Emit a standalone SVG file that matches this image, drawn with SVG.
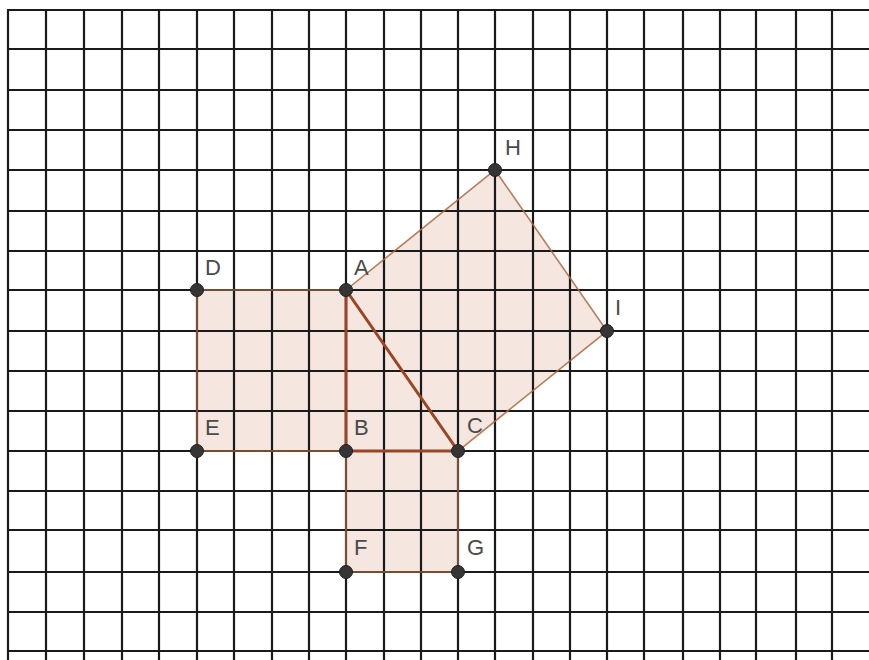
<svg xmlns="http://www.w3.org/2000/svg" width="869" height="660" viewBox="0 0 869 660">
  <style>
    .grid line { stroke: #1a1a1a; stroke-width: 2.2; }
    .fill { fill: #d89a80; fill-opacity: 0.25; stroke: none; }
    .sq { stroke: #a8683f; stroke-width: 1.6; stroke-opacity: 0.85; fill: none; }
    .tri { stroke: #9a4526; stroke-width: 3; fill: none; stroke-linecap: round; }
    .pt { fill: #353535; stroke: #1e1e1e; stroke-width: 1; }
    .lbl { font-family: "Liberation Sans", Arial, sans-serif; font-size: 22px; fill: #4a4a4a; }
  </style>
  <rect x="0" y="0" width="869" height="660" fill="#ffffff"/>
  <g id="fills">
    <polygon class="fill" points="197,290 346,290 346,451 197,451"/>
    <polygon class="fill" points="346,451 458,451 458,572 346,572"/>
    <polygon class="fill" points="346,290 495,170 607,331 458,451"/>
    <polygon class="fill" points="346,290 346,451 458,451"/>
  </g>
  <g class="grid" id="grid">
    <line x1="8" y1="10" x2="8" y2="660"/>
    <line x1="46" y1="10" x2="46" y2="660"/>
    <line x1="84" y1="10" x2="84" y2="660"/>
    <line x1="122" y1="10" x2="122" y2="660"/>
    <line x1="159" y1="10" x2="159" y2="660"/>
    <line x1="197" y1="10" x2="197" y2="660"/>
    <line x1="234" y1="10" x2="234" y2="660"/>
    <line x1="272" y1="10" x2="272" y2="660"/>
    <line x1="309" y1="10" x2="309" y2="660"/>
    <line x1="346" y1="10" x2="346" y2="660"/>
    <line x1="384" y1="10" x2="384" y2="660"/>
    <line x1="421" y1="10" x2="421" y2="660"/>
    <line x1="458" y1="10" x2="458" y2="660"/>
    <line x1="495" y1="10" x2="495" y2="660"/>
    <line x1="533" y1="10" x2="533" y2="660"/>
    <line x1="570" y1="10" x2="570" y2="660"/>
    <line x1="607" y1="10" x2="607" y2="660"/>
    <line x1="644" y1="10" x2="644" y2="660"/>
    <line x1="683" y1="10" x2="683" y2="660"/>
    <line x1="720" y1="10" x2="720" y2="660"/>
    <line x1="756" y1="10" x2="756" y2="660"/>
    <line x1="796" y1="10" x2="796" y2="660"/>
    <line x1="832" y1="10" x2="832" y2="660"/>
    <line x1="7" y1="10" x2="869" y2="10"/>
    <line x1="7" y1="49" x2="869" y2="49"/>
    <line x1="7" y1="90" x2="869" y2="90"/>
    <line x1="7" y1="130" x2="869" y2="130"/>
    <line x1="7" y1="170" x2="869" y2="170"/>
    <line x1="7" y1="211" x2="869" y2="211"/>
    <line x1="7" y1="251" x2="869" y2="251"/>
    <line x1="7" y1="290" x2="869" y2="290"/>
    <line x1="7" y1="331" x2="869" y2="331"/>
    <line x1="7" y1="371" x2="869" y2="371"/>
    <line x1="7" y1="411" x2="869" y2="411"/>
    <line x1="7" y1="451" x2="869" y2="451"/>
    <line x1="7" y1="491" x2="869" y2="491"/>
    <line x1="7" y1="530" x2="869" y2="530"/>
    <line x1="7" y1="572" x2="869" y2="572"/>
    <line x1="7" y1="612" x2="869" y2="612"/>
    <line x1="7" y1="651" x2="869" y2="651"/>
  </g>
  <g id="connectors">
    <polygon class="sq" points="197,290 346,290 346,451 197,451"/>
    <polygon class="sq" points="346,451 458,451 458,572 346,572"/>
    <polygon class="sq" points="346,290 495,170 607,331 458,451"/>
    <polygon class="tri" points="346,290 346,451 458,451"/>
  </g>
  <g id="node-A"><circle class="pt" cx="346" cy="290" r="6.5"/><text class="lbl" x="354" y="275">A</text></g>
  <g id="node-B"><circle class="pt" cx="346" cy="451" r="6.5"/><text class="lbl" x="354" y="435">B</text></g>
  <g id="node-C"><circle class="pt" cx="458" cy="451" r="6.5"/><text class="lbl" x="467" y="433">C</text></g>
  <g id="node-D"><circle class="pt" cx="197" cy="290" r="6.5"/><text class="lbl" x="205" y="275">D</text></g>
  <g id="node-E"><circle class="pt" cx="197" cy="451" r="6.5"/><text class="lbl" x="205" y="435">E</text></g>
  <g id="node-F"><circle class="pt" cx="346" cy="572" r="6.5"/><text class="lbl" x="354" y="555">F</text></g>
  <g id="node-G"><circle class="pt" cx="458" cy="572" r="6.5"/><text class="lbl" x="467" y="555">G</text></g>
  <g id="node-H"><circle class="pt" cx="495" cy="170" r="6.5"/><text class="lbl" x="505" y="155">H</text></g>
  <g id="node-I"><circle class="pt" cx="607" cy="331" r="6.5"/><text class="lbl" x="615" y="315">I</text></g>
</svg>
